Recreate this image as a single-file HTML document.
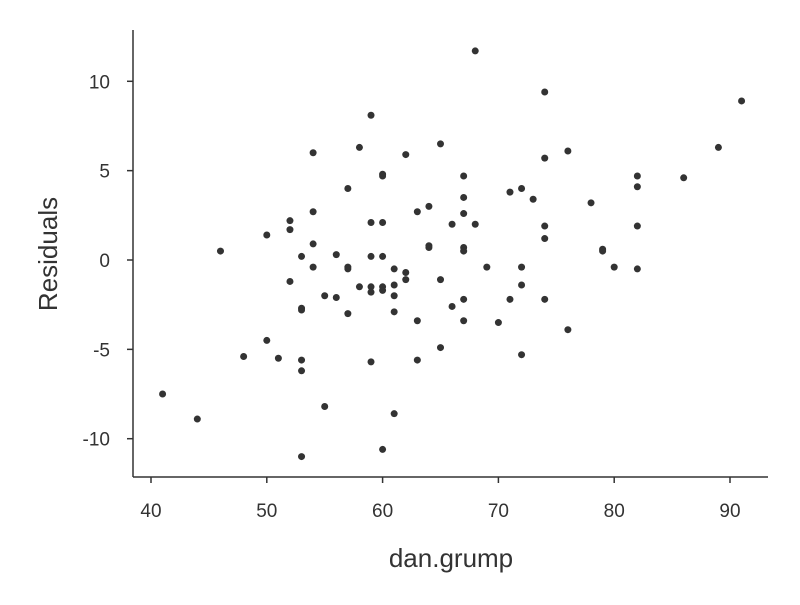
<!DOCTYPE html>
<html><head><meta charset="utf-8"><style>
body{margin:0;background:#fff}
svg text{font-family:"Liberation Sans",sans-serif;fill:#333}
</style></head><body>
<svg id="chart" width="800" height="600">
<g id="axes"></g><g id="points"></g>
</svg>
<script>
const xVals=[41,44,46,48,50,50,51,52,52,52,53,53,53,53,53,53,54,54,54,54,55,55,56,56,57,57,57,57,58,58,59,59,59,59,59,59,60,60,60,60,60,60,60,61,61,61,61,61,62,62,62,63,63,63,64,64,64,65,65,65,66,66,67,67,67,67,67,67,67,68,68,69,70,71,71,72,72,72,72,73,74,74,74,74,74,76,76,78,79,79,80,82,82,82,82,86,89,91];
const yVals=[-7.5,-8.9,0.5,-5.4,1.4,-4.5,-5.5,2.2,1.7,-1.2,0.2,-2.7,-2.8,-5.6,-6.2,-11,6,2.7,0.9,-0.4,-2,-8.2,0.3,-2.1,4,-0.4,-0.5,-3,6.3,-1.5,8.1,2.1,0.2,-1.5,-1.8,-5.7,4.8,4.7,2.1,0.2,-1.5,-1.7,-10.6,-0.5,-1.4,-2,-2.9,-8.6,5.9,-0.7,-1.1,2.7,-3.4,-5.6,3,0.8,0.7,6.5,-1.1,-4.9,2,-2.6,4.7,3.5,2.6,0.7,0.5,-2.2,-3.4,11.7,2,-0.4,-3.5,3.8,-2.2,4,-0.4,-1.4,-5.3,3.4,9.4,5.7,1.9,1.2,-2.2,6.1,-3.9,3.2,0.6,0.5,-0.4,4.7,4.1,1.9,-0.5,4.6,6.3,8.9];
const xTicks=[40,50,60,70,80,90];
const yTicks=[-10,-5,0,5,10];
const xTickLabels=["40","50","60","70","80","90"];
const yTickLabels=["-10","-5","0","5","10"];
const NS="http://www.w3.org/2000/svg";
function sx(v){return 151+(v-40)*11.58;}
function sy(v){return 260-v*17.87;}
function mk(tag,attrs,parent){const e=document.createElementNS(NS,tag);for(const k in attrs)e.setAttribute(k,attrs[k]);parent.appendChild(e);return e;}
const ax=document.getElementById('axes');
let l=mk('line',{x1:133,y1:30,x2:133,y2:477,stroke:'#333','stroke-width':1.5},ax);


l=mk('line',{x1:133,y1:477,x2:768,y2:477,stroke:'#333','stroke-width':1.5},ax);


xTicks.forEach((t,i)=>{
  const tk=mk('line',{x1:sx(t),y1:477,x2:sx(t),y2:483,stroke:'#333','stroke-width':1.5},ax);
  
  
  const tx=mk('text',{x:sx(t),y:517,'text-anchor':'middle','font-size':19},ax);
  tx.textContent=xTickLabels[i];
  
  
});
yTicks.forEach((t,i)=>{
  const tk=mk('line',{x1:127,y1:sy(t),x2:133,y2:sy(t),stroke:'#333','stroke-width':1.5},ax);
  
  
  const tx=mk('text',{x:110,y:sy(t)+7,'text-anchor':'end','font-size':19},ax);
  tx.textContent=yTickLabels[i];
  
  
});
let t=mk('text',{x:451,y:567,'text-anchor':'middle','font-size':26},ax);
t.textContent='dan.grump';


t=mk('text',{x:0,y:0,'text-anchor':'middle','font-size':26,transform:'translate(57,254) rotate(-90)'},ax);
t.textContent='Residuals';


const pg=document.getElementById('points');
xVals.forEach((x,i)=>{
  const c=mk('circle',{cx:sx(x),cy:sy(yVals[i]),r:3.5,fill:'#333'},pg);
  
  
});
</script>
</body></html>
